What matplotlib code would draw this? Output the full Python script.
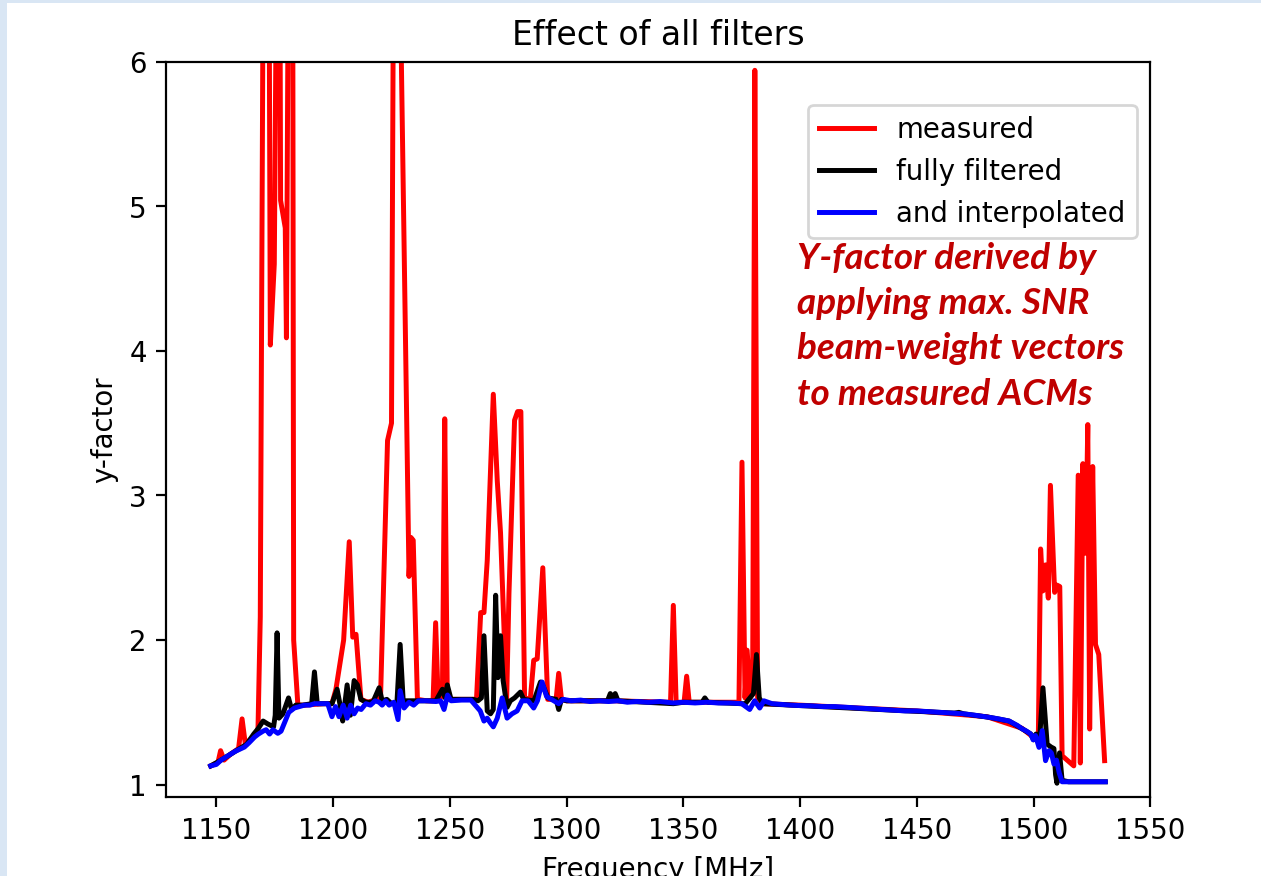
import matplotlib
matplotlib.use('Agg')
from matplotlib import pyplot as plt
from matplotlib.patches import Rectangle

# (frequency [MHz], y-factor)
measured = [
    (1147.6, 1.13), (1150.7, 1.155), (1151.8, 1.235), (1153.3, 1.17), (1156, 1.21),
    (1159.5, 1.25), (1161, 1.455), (1162.4, 1.28), (1165, 1.32), (1167.8, 1.37),
    (1168.8, 2.16), (1171.5, 12.0), (1173.1, 4.04), (1174.8, 4.6), (1176.8, 9.0),
    (1177.5, 5.04), (1179.5, 4.85), (1180.0, 4.09), (1181.5, 9.0), (1182.5, 9.0),
    (1183.1, 2.0), (1184.9, 1.55), (1188, 1.55), (1196, 1.56), (1199.5, 1.56),
    (1201.2, 1.66), (1204.5, 2.0), (1206.9, 2.68), (1208.4, 2.02), (1209.8, 2.04),
    (1211.9, 1.59), (1215, 1.57), (1220.3, 1.6), (1223.3, 3.38), (1225, 3.5),
    (1226.2, 8.0), (1228.3, 7.0), (1232.5, 2.44), (1233.3, 2.71), (1234.3, 2.69),
    (1236.1, 1.59), (1240, 1.58), (1242.8, 1.58), (1243.9, 2.12), (1245, 1.58),
    (1246.8, 1.62), (1247.8, 3.53), (1248.9, 1.59), (1255, 1.59), (1261.4, 1.59),
    (1263.2, 2.19), (1264.6, 2.19), (1266, 2.55), (1268.6, 3.70), (1270.3, 3.1),
    (1271.7, 2.74), (1274.3, 1.58), (1275.3, 2.32), (1277.7, 3.52), (1279.0, 3.58),
    (1280.4, 3.58), (1282, 1.59), (1284.5, 1.60), (1285.9, 1.86), (1287.4, 1.87),
    (1289.8, 2.50), (1291.9, 1.59), (1295.5, 1.59), (1296.6, 1.77), (1297.8, 1.59),
    (1300, 1.58), (1320, 1.58), (1344.5, 1.57), (1345.7, 2.24), (1346.9, 1.57),
    (1350.3, 1.57), (1351.4, 1.75), (1352.5, 1.57), (1360, 1.57), (1373.8, 1.57),
    (1375.1, 3.23), (1376.4, 1.6), (1377.3, 1.93), (1378.6, 1.6), (1379.7, 1.85),
    (1380.6, 5.94), (1381.8, 1.6), (1384, 1.56), (1400, 1.55), (1450, 1.51),
    (1480, 1.47), (1495, 1.39), (1502, 1.30), (1503, 2.63), (1504, 2.34),
    (1505.1, 2.52), (1506.3, 2.29), (1507.2, 3.07), (1509, 2.33), (1510, 2.38),
    (1511.2, 2.37), (1512.2, 1.20), (1517.2, 1.13), (1519.1, 3.14), (1520, 1.15),
    (1521.1, 3.22), (1522.3, 2.6), (1523.2, 3.49), (1524, 1.385), (1525.3, 3.20),
    (1526.5, 1.97), (1527.9, 1.90), (1530.4, 1.166),
]

filtered = [
    (1147.6, 1.13), (1152, 1.17), (1156, 1.21), (1160, 1.25), (1163, 1.28),
    (1166, 1.35), (1168, 1.39), (1170, 1.44), (1172, 1.42), (1174.5, 1.40),
    (1175.2, 1.48), (1176, 2.05), (1176.8, 1.46), (1178.5, 1.49), (1180.9, 1.60),
    (1182.2, 1.52), (1184, 1.55), (1187, 1.55), (1190.8, 1.56), (1192, 1.78),
    (1193.2, 1.56), (1196, 1.56), (1199.5, 1.56), (1201.7, 1.66), (1203, 1.55),
    (1204.1, 1.44), (1206, 1.69), (1207.4, 1.48), (1209, 1.72), (1210.4, 1.69),
    (1211.9, 1.59), (1214, 1.57), (1217, 1.57), (1219.7, 1.67), (1221, 1.58),
    (1223, 1.59), (1225, 1.56), (1227.3, 1.56), (1228.7, 1.97), (1230, 1.58),
    (1236, 1.58), (1244, 1.58), (1246.8, 1.66), (1248, 1.60), (1248.9, 1.69),
    (1250.5, 1.59), (1260, 1.59), (1262, 1.58), (1263.5, 1.60), (1264.6, 2.03),
    (1266, 1.51), (1267.4, 1.49), (1268.6, 1.52), (1269.6, 2.31), (1270.6, 1.74),
    (1271.7, 2.03), (1272.8, 1.72), (1274.5, 1.535), (1275.9, 1.58), (1277.7, 1.60),
    (1280.2, 1.64), (1281.6, 1.59), (1286, 1.58), (1288.8, 1.71), (1290, 1.68),
    (1292, 1.60), (1295.5, 1.59), (1296.6, 1.52), (1297.8, 1.59), (1300, 1.58),
    (1317.5, 1.58), (1318.7, 1.63), (1319.8, 1.60), (1320.8, 1.63), (1322, 1.58),
    (1345.7, 1.56), (1350, 1.57), (1358, 1.57), (1359.2, 1.60), (1360.5, 1.57),
    (1375, 1.56), (1376.5, 1.56), (1378.5, 1.60), (1380, 1.63), (1381.3, 1.90),
    (1382.5, 1.60), (1384, 1.56), (1400, 1.547), (1440, 1.515), (1466, 1.495),
    (1468, 1.50), (1470, 1.49), (1480.9, 1.466), (1489.5, 1.44), (1495.1, 1.386),
    (1498.8, 1.35), (1500, 1.31), (1501, 1.35), (1502.5, 1.30), (1504, 1.67),
    (1505.8, 1.28), (1507.5, 1.26), (1508.7, 1.25), (1509.4, 1.07), (1510, 1.01),
    (1511.1, 1.22), (1512.2, 1.03), (1515, 1.02), (1530.7, 1.02),
]

interpolated = [
    (1147.6, 1.13), (1150, 1.14), (1152, 1.17), (1155, 1.20), (1158, 1.23),
    (1160, 1.245), (1162, 1.26), (1164, 1.29), (1166.4, 1.33), (1168, 1.35),
    (1170, 1.37), (1171.3, 1.38), (1172.8, 1.35), (1174.2, 1.38), (1176.3, 1.355),
    (1177.7, 1.37), (1179.5, 1.44), (1181, 1.50), (1183.4, 1.53), (1185.5, 1.54),
    (1187.7, 1.55), (1190, 1.55), (1192, 1.56), (1195, 1.56), (1197.7, 1.56),
    (1199.5, 1.47), (1201, 1.54), (1202.5, 1.47), (1204.3, 1.55), (1206, 1.46),
    (1207.5, 1.55), (1209, 1.49), (1210.5, 1.53), (1212, 1.52), (1214, 1.56),
    (1216, 1.55), (1218, 1.58), (1219.7, 1.57), (1221, 1.55), (1222.5, 1.58),
    (1224, 1.55), (1226, 1.57), (1227.8, 1.45), (1228.7, 1.65), (1230.4, 1.53),
    (1232.5, 1.57), (1234.5, 1.55), (1236.5, 1.58), (1240, 1.58), (1244, 1.575),
    (1246, 1.58), (1247.5, 1.52), (1249, 1.62), (1250.5, 1.58), (1255, 1.585),
    (1259, 1.585), (1261.7, 1.535), (1263, 1.51), (1264.6, 1.44), (1266, 1.46),
    (1267.2, 1.43), (1268.6, 1.40), (1270.3, 1.46), (1272.4, 1.60), (1274.5, 1.46),
    (1276.6, 1.49), (1278.8, 1.51), (1280.9, 1.58), (1283.5, 1.58), (1285.9, 1.53),
    (1287.5, 1.58), (1289.5, 1.71), (1291.4, 1.61), (1293.5, 1.59), (1296.6, 1.56),
    (1298.5, 1.59), (1302, 1.58), (1306, 1.585), (1310, 1.575), (1314, 1.58),
    (1318, 1.575), (1322, 1.58), (1326, 1.57), (1330, 1.575), (1335, 1.57),
    (1340, 1.575), (1345.7, 1.565), (1350, 1.57), (1355, 1.565), (1360, 1.57),
    (1365, 1.565), (1370, 1.565), (1375, 1.56), (1378.4, 1.52), (1380.5, 1.58),
    (1382.7, 1.53), (1384.5, 1.58), (1388, 1.56), (1392, 1.555), (1396, 1.55),
    (1400, 1.547), (1405, 1.545), (1410, 1.54), (1415, 1.54), (1420, 1.535),
    (1425, 1.53), (1430, 1.525), (1435, 1.52), (1440, 1.515), (1445, 1.51),
    (1450, 1.51), (1455, 1.505), (1460, 1.50), (1465, 1.495), (1470, 1.49),
    (1475, 1.48), (1480.9, 1.466), (1485, 1.455), (1489.5, 1.44), (1493, 1.41),
    (1495.1, 1.386), (1497, 1.37), (1498.8, 1.35), (1499.8, 1.31), (1500.8, 1.34),
    (1502.3, 1.258), (1503.7, 1.374), (1505.1, 1.166), (1506.6, 1.235), (1507.6, 1.22),
    (1508.7, 1.143), (1509.8, 1.17), (1511, 1.08), (1512.2, 1.02), (1520, 1.02),
    (1530.7, 1.02),
]

series = [
    (measured, 'red', 'measured'),
    (filtered, 'black', 'fully filtered'),
    (interpolated, 'blue', 'and interpolated'),
]

note = "Y-factor derived by\napplying max. SNR\nbeam-weight vectors\nto measured ACMs"

W, H, DPI = 1261, 876, 198.5
fig = plt.figure(figsize=((W + 0.4) / DPI, (H + 0.4) / DPI), dpi=DPI)
# slide background showing at the left and top edges
fig.patch.set_facecolor('#d9e6f4')
fig.add_artist(Rectangle((7.0 / W, 0), 1, 1 - 3.0 / H, transform=fig.transFigure,
                         facecolor='white', edgecolor='none', zorder=-5))

ax = fig.add_axes([166.0 / W, 1 - 797.0 / H, (1150.0 - 166.0) / W, (797.0 - 62.0) / H])
for data, col, lab in series:
    f = [p[0] for p in data]
    v = [p[1] for p in data]
    ax.plot(f, v, color=col, label=lab, lw=1.8)

ax.set_ylim(0.915, 6)
ax.set_xticks([1150, 1200, 1250, 1300, 1350, 1400, 1450, 1500, 1550])
ax.set_title('Effect of all filters')
ax.set_xlabel('Frequency [MHz]')
ax.set_ylabel('y-factor')
ax.legend(loc='upper right', bbox_to_anchor=(1.0, 0.960))

fig.text(797.0 / W, 1 - 242.0 / H, note, ha='left', va='top', color='#c00000',
         family='Lato', style='italic', weight='bold', fontsize=13.4, linespacing=1.45)

fig.savefig('out.png', dpi=DPI, facecolor=fig.get_facecolor())
